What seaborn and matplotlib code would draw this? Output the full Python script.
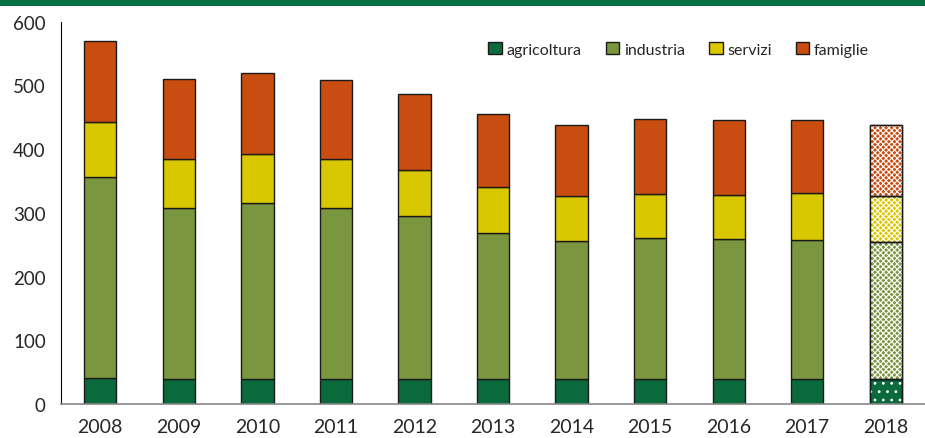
import numpy as np
import matplotlib
matplotlib.use("Agg")
import matplotlib.pyplot as plt
from matplotlib.patches import Rectangle
import seaborn as sns

# dati
anni = ["2008", "2009", "2010", "2011", "2012", "2013", "2014", "2015", "2016", "2017", "2018"]
agricoltura = [41, 40, 39, 40, 40, 39, 39, 39, 40, 40, 39]
industria = [315, 267, 276, 267, 255, 229, 217, 221, 219, 218, 215]
servizi = [86, 78, 77, 77, 72, 72, 71, 69, 69, 73, 72]
famiglie = [127, 125, 128, 124, 120, 115, 111, 118, 117, 114, 112]

serie = ["agricoltura", "industria", "servizi", "famiglie"]
valori = [agricoltura, industria, servizi, famiglie]
colori = ["#0a6a3c", "#7a963e", "#d9c800", "#c94c10"]
tratteggi = ["..", "xxxxxx", "xxxxxx", "xxxxxx"]

sns.set_style("white")
plt.rcParams["font.family"] = ["Lato", "DejaVu Sans"]
plt.rcParams["hatch.linewidth"] = 0.8

fig = plt.figure(figsize=(9.25, 4.39), dpi=100)
ax = fig.add_axes([0.066, 0.0774, 0.934, 0.8713])

# barre impilate
base = np.zeros(len(anni))
for nome, vals, col in zip(serie, valori, colori):
    sns.barplot(x=anni, y=vals, bottom=base, color=col, width=0.41,
                edgecolor="#1a1a1a", linewidth=1.0, errorbar=None,
                saturation=1, label=nome, ax=ax)
    base = base + np.array(vals)

# 2018 stimato: tratteggio bianco sopra la barra
for cont, hatch in zip(ax.containers, tratteggi):
    p = cont.patches[-1]
    ax.add_patch(Rectangle(p.get_xy(), p.get_width(), p.get_height(),
                           fill=False, edgecolor="white", hatch=hatch,
                           linewidth=0, zorder=p.get_zorder() + 0.1))
    ax.add_patch(Rectangle(p.get_xy(), p.get_width(), p.get_height(),
                           fill=False, edgecolor="#1a1a1a", linewidth=1.0,
                           zorder=p.get_zorder() + 0.2))

ax.set_ylim(0, 600)
ax.set_xlim(-0.5, len(anni) - 0.5)
ax.set_yticks(range(0, 601, 100))

# tick tra le categorie, etichette al centro (stile Excel)
ax.set_xticks(np.arange(-0.5, len(anni), 1.0))
ax.set_xticklabels([])
ax.set_xticks(np.arange(len(anni)), minor=True)
ax.set_xticklabels(anni, minor=True)
ax.tick_params(axis="x", which="major", direction="out", length=5, width=1, color="#555555")
ax.tick_params(axis="x", which="minor", length=0, pad=10, labelsize=14)
ax.tick_params(axis="y", direction="out", length=5, width=1, color="black", labelsize=13.5, pad=6)
ax.set_xlabel("")
ax.set_ylabel("")

sns.despine(ax=ax, top=True, right=True)
ax.spines["left"].set_color("black")
ax.spines["bottom"].set_color("#888888")
ax.spines["bottom"].set_linewidth(1.2)

handles, labels = ax.get_legend_handles_labels()
ax.legend(handles, labels, loc="upper right", bbox_to_anchor=(0.952, 0.985), ncol=4,
          frameon=False, fontsize=11.5, handlelength=0.85, handleheight=0.85,
          handletextpad=0.3, columnspacing=1.5)

# banda verde in alto
fig.patches.append(Rectangle((0, 1 - 7 / 439), 1, 7 / 439, transform=fig.transFigure,
                             facecolor="#0a6e45", edgecolor="none", zorder=0))

fig.savefig("out.png", dpi=100)
